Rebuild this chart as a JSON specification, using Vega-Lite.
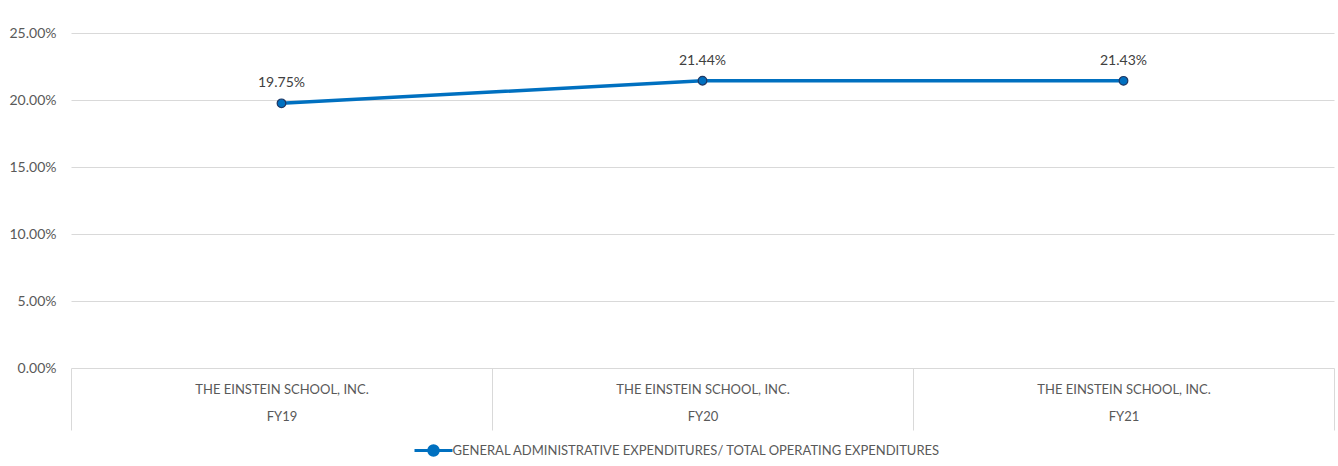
{
  "$schema": "https://vega.github.io/schema/vega-lite/v6.json",
  "autosize": {"type": "none"},
  "width": 1263,
  "height": 335,
  "padding": {"left": 71, "top": 33, "right": 4, "bottom": 98},
  "background": "white",
  "config": {
    "view": {"stroke": null},
    "font": "Lato"
  },
  "data": {
    "values": [
      {"period": "THE EINSTEIN SCHOOL, INC.|FY19", "value": 0.1975, "series": "GENERAL ADMINISTRATIVE EXPENDITURES/ TOTAL OPERATING EXPENDITURES"},
      {"period": "THE EINSTEIN SCHOOL, INC.|FY20", "value": 0.2144, "series": "GENERAL ADMINISTRATIVE EXPENDITURES/ TOTAL OPERATING EXPENDITURES"},
      {"period": "THE EINSTEIN SCHOOL, INC.|FY21", "value": 0.2143, "series": "GENERAL ADMINISTRATIVE EXPENDITURES/ TOTAL OPERATING EXPENDITURES"}
    ]
  },
  "encoding": {
    "x": {
      "field": "period",
      "type": "nominal",
      "sort": null,
      "scale": {"type": "band", "paddingInner": 0, "paddingOuter": 0},
      "axis": {
        "title": null,
        "labelAngle": 0,
        "labelExpr": "isValid(datum.value) ? split(datum.value, '|') : ''",
        "labelLineHeight": 27,
        "labelFontSize": 13,
        "labelColor": "#595959",
        "labelPadding": -47,
        "tickBand": "extent",
        "tickExtra": true,
        "tickSize": 62,
        "tickColor": "#D9D9D9",
        "tickWidth": 1,
        "domain": false,
        "grid": false
      }
    },
    "y": {
      "field": "value",
      "type": "quantitative",
      "scale": {"domain": [0, 0.25]},
      "axis": {
        "title": null,
        "format": ".2%",
        "values": [0, 0.05, 0.1, 0.15, 0.2, 0.25],
        "labelOverlap": false,
        "ticks": false,
        "domain": false,
        "labelPadding": 15,
        "labelFontSize": 14,
        "labelColor": "#595959",
        "gridColor": "#D9D9D9",
        "gridWidth": 1
      }
    }
  },
  "layer": [
    {
      "mark": {"type": "line", "strokeWidth": 3.5},
      "encoding": {
        "color": {
          "field": "series",
          "type": "nominal",
          "scale": {"range": ["#0070C0"]},
          "legend": {
            "title": null,
            "orient": "none",
            "legendX": 351.5,
            "legendY": 406.5,
            "padding": 0,
            "direction": "horizontal",
            "labelFontSize": 13,
            "labelColor": "#595959",
            "labelLimit": 800,
            "symbolType": "M-2,0L-0.5,0M0.5,0L2,0M-0.5,0A0.5,0.5 0 1,0 0.5,0A0.5,0.5 0 1,0 -0.5,0",
            "symbolSize": 361,
            "symbolStrokeWidth": 3,
            "symbolFillColor": "#0070C0",
            "labelOffset": 8
          }
        }
      }
    },
    {
      "mark": {"type": "point", "filled": true, "fill": "#0070C0", "stroke": "#1F3864", "strokeWidth": 1.2, "size": 75, "opacity": 1}
    },
    {
      "mark": {"type": "text", "dy": -20, "fontSize": 14, "color": "#404040"},
      "encoding": {
        "text": {"field": "value", "type": "quantitative", "format": ".2%"}
      }
    }
  ]
}
